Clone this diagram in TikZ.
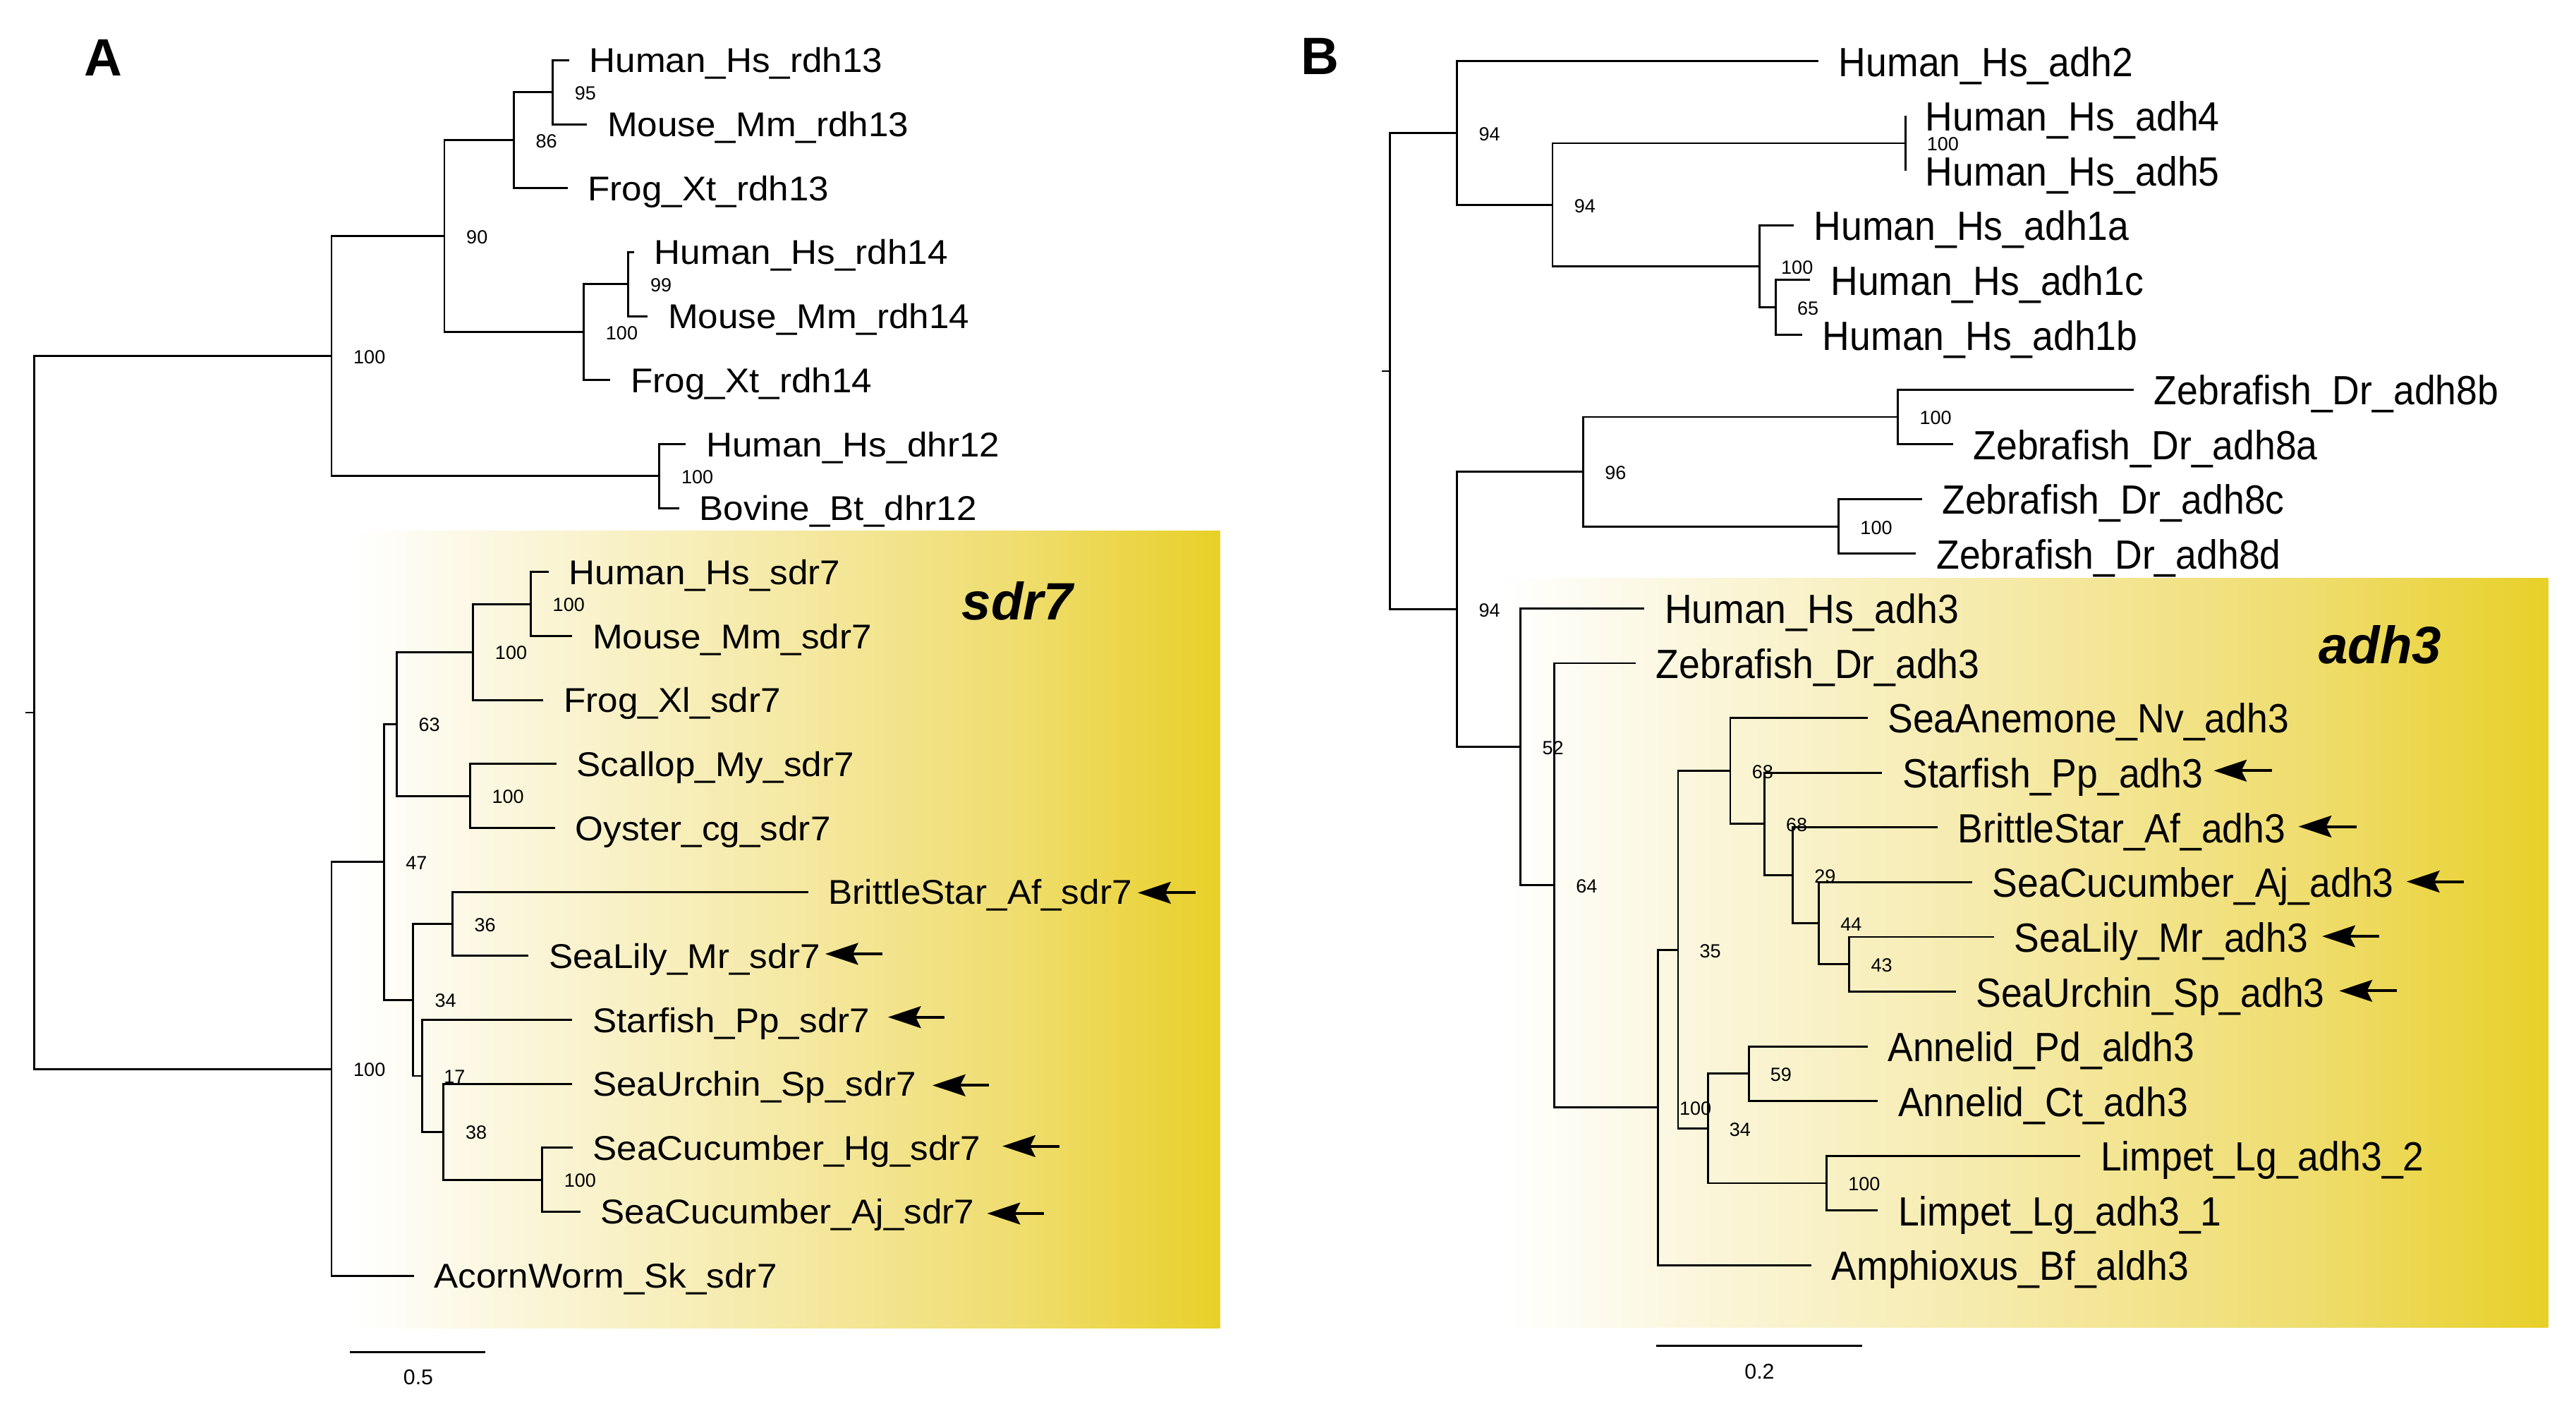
\documentclass[tikz,border=0pt]{standalone}
\usepackage{fontspec}
\setmainfont{Liberation Sans}
\usepackage{graphicx}
\usetikzlibrary{arrows.meta}
\definecolor{gA}{RGB}{250,245,215}
\definecolor{gB}{RGB}{245,233,165}
\definecolor{gC}{RGB}{239,221,110}
\definecolor{gD}{RGB}{232,208,40}
\pgfdeclarehorizontalshading{boxshade}{100bp}{color(0bp)=(white); color(25bp)=(white); color(27bp)=(white); color(37bp)=(gA); color(51bp)=(gB); color(64bp)=(gC); color(75bp)=(gD); color(100bp)=(gD)}
\newcommand{\labA}[1]{\scalebox{1}[0.95]{#1}}
\newcommand{\labB}[1]{\scalebox{1}[1.08]{#1}}
\begin{document}
\begin{tikzpicture}[x=0.5pt,y=-0.5pt,
  br/.style={draw=black, line width=0.62pt},
  tipA/.style={anchor=base west, inner sep=0pt, font=\fontsize{11}{13}\selectfont},
  tipB/.style={anchor=base west, inner sep=0pt, font=\fontsize{11.5}{13}\selectfont},
  bs/.style={anchor=west, inner sep=0pt, font=\fontsize{5.8}{6.5}\selectfont},
  arr/.style={line width=0.85pt, -{Stealth[length=10pt,width=6.6pt,inset=1.6pt]}},
  clade/.style={inner sep=0pt, font=\fontsize{16}{18}\selectfont\bfseries\itshape},
  panel/.style={anchor=base west, inner sep=0pt, font=\fontsize{16}{18}\selectfont\bfseries},
  sbar/.style={draw=black, line width=0.75pt},
  sblab/.style={inner sep=0pt, font=\fontsize{6.5}{8}\selectfont}]
\useasboundingbox (0,0) rectangle (1568,854);
% clade boxes
\shade[shading=boxshade] (192,323) rectangle (742.6,808.2);
\shade[shading=boxshade] (888,351.7) rectangle (1551,808);

% ================= Panel A =================
\node[panel] (pA) at (51,46) {A};
\coordinate (rA) at (20.8,433.65);
\coordinate (rAt) at (15.6,433.65);
\coordinate (a1) at (201.8,216.8);
\coordinate (a2) at (270.5,143.8);
\coordinate (a3) at (312.7,85.4);
\coordinate (a4) at (336.5,56.15);
\coordinate (a5) at (355.4,202.2);
\coordinate (a6) at (382.5,172.95);
\coordinate (a7) at (401.4,289.75);
\coordinate (s1) at (323.1,367.6);
\coordinate (s2) at (288,396.8);
\coordinate (s3) at (286.1,484.4);
\coordinate (s4) at (241.5,440.6);
\coordinate (s5) at (275.4,562.25);
\coordinate (s6) at (330,717.95);
\coordinate (s7) at (270,688.8);
\coordinate (s8) at (256.8,654.75);
\coordinate (s9) at (251.3,608.5);
\coordinate (s10) at (233.6,524.55);
\coordinate (s11) at (201.8,650.5);
\coordinate (tA0) at (346.4,36.7);
\coordinate (tA1) at (357.3,75.6);
\coordinate (tA2) at (345.5,114.6);
\coordinate (tA3) at (386,153.5);
\coordinate (tA4) at (394.3,192.4);
\coordinate (tA5) at (371.6,231.4);
\coordinate (tA6) at (417.5,270.3);
\coordinate (tA7) at (413.3,309.2);
\coordinate (tA8) at (334,348.1);
\coordinate (tA9) at (348.3,387.1);
\coordinate (tA10) at (330.8,426.0);
\coordinate (tA11) at (338.7,464.9);
\coordinate (tA12) at (337.9,503.9);
\coordinate (tA13) at (491.9,542.8);
\coordinate (tA14) at (321.7,581.7);
\coordinate (tA15) at (348.3,620.7);
\coordinate (tA16) at (348.3,659.6);
\coordinate (tA17) at (348.6,698.5);
\coordinate (tA18) at (353.2,737.4);
\coordinate (tA19) at (251.9,776.4);

\draw[br] (rAt) -- (rA);
\draw[br] (rA) |- (a1); \draw[br] (rA) |- (s11);
\draw[br] (a1) |- (a2); \draw[br] (a1) |- (a7);
\draw[br] (a2) |- (a3); \draw[br] (a2) |- (a5);
\draw[br] (a3) |- (a4); \draw[br] (a3) |- (tA2);
\draw[br] (a4) |- (tA0); \draw[br] (a4) |- (tA1);
\draw[br] (a5) |- (a6); \draw[br] (a5) |- (tA5);
\draw[br] (a6) |- (tA3); \draw[br] (a6) |- (tA4);
\draw[br] (a7) |- (tA6); \draw[br] (a7) |- (tA7);
\draw[br] (s11) |- (s10); \draw[br] (s11) |- (tA19);
\draw[br] (s10) |- (s4); \draw[br] (s10) |- (s9);
\draw[br] (s4) |- (s2); \draw[br] (s4) |- (s3);
\draw[br] (s2) |- (s1); \draw[br] (s2) |- (tA10);
\draw[br] (s1) |- (tA8); \draw[br] (s1) |- (tA9);
\draw[br] (s3) |- (tA11); \draw[br] (s3) |- (tA12);
\draw[br] (s9) |- (s5); \draw[br] (s9) |- (s8);
\draw[br] (s5) |- (tA13); \draw[br] (s5) |- (tA14);
\draw[br] (s8) |- (tA15); \draw[br] (s8) |- (s7);
\draw[br] (s7) |- (tA16); \draw[br] (s7) |- (s6);
\draw[br] (s6) |- (tA17); \draw[br] (s6) |- (tA18);

\node[tipA] (lA0) at ([xshift=6pt,yshift=-3.75pt]tA0) {\labA{Human\_Hs\_rdh13}};
\node[tipA] (lA1) at ([xshift=6pt,yshift=-3.75pt]tA1) {\labA{Mouse\_Mm\_rdh13}};
\node[tipA] (lA2) at ([xshift=6pt,yshift=-3.75pt]tA2) {\labA{Frog\_Xt\_rdh13}};
\node[tipA] (lA3) at ([xshift=6pt,yshift=-3.75pt]tA3) {\labA{Human\_Hs\_rdh14}};
\node[tipA] (lA4) at ([xshift=6pt,yshift=-3.75pt]tA4) {\labA{Mouse\_Mm\_rdh14}};
\node[tipA] (lA5) at ([xshift=6pt,yshift=-3.75pt]tA5) {\labA{Frog\_Xt\_rdh14}};
\node[tipA] (lA6) at ([xshift=6pt,yshift=-3.75pt]tA6) {\labA{Human\_Hs\_dhr12}};
\node[tipA] (lA7) at ([xshift=6pt,yshift=-3.75pt]tA7) {\labA{Bovine\_Bt\_dhr12}};
\node[tipA] (lA8) at ([xshift=6pt,yshift=-3.75pt]tA8) {\labA{Human\_Hs\_sdr7}};
\node[tipA] (lA9) at ([xshift=6pt,yshift=-3.75pt]tA9) {\labA{Mouse\_Mm\_sdr7}};
\node[tipA] (lA10) at ([xshift=6pt,yshift=-3.75pt]tA10) {\labA{Frog\_Xl\_sdr7}};
\node[tipA] (lA11) at ([xshift=6pt,yshift=-3.75pt]tA11) {\labA{Scallop\_My\_sdr7}};
\node[tipA] (lA12) at ([xshift=6pt,yshift=-3.75pt]tA12) {\labA{Oyster\_cg\_sdr7}};
\node[tipA] (lA13) at ([xshift=6pt,yshift=-3.75pt]tA13) {\labA{BrittleStar\_Af\_sdr7}};
\node[tipA] (lA14) at ([xshift=6pt,yshift=-3.75pt]tA14) {\labA{SeaLily\_Mr\_sdr7}};
\node[tipA] (lA15) at ([xshift=6pt,yshift=-3.75pt]tA15) {\labA{Starfish\_Pp\_sdr7}};
\node[tipA] (lA16) at ([xshift=6pt,yshift=-3.75pt]tA16) {\labA{SeaUrchin\_Sp\_sdr7}};
\node[tipA] (lA17) at ([xshift=6pt,yshift=-3.75pt]tA17) {\labA{SeaCucumber\_Hg\_sdr7}};
\node[tipA] (lA18) at ([xshift=6pt,yshift=-3.75pt]tA18) {\labA{SeaCucumber\_Aj\_sdr7}};
\node[tipA] (lA19) at ([xshift=6pt,yshift=-3.75pt]tA19) {\labA{AcornWorm\_Sk\_sdr7}};

\node[bs] (bA4) at ([xshift=6.5pt,yshift=-0.3pt]a4) {95};
\node[bs] (bA3) at ([xshift=6.5pt,yshift=-0.3pt]a3) {86};
\node[bs] (bA2) at ([xshift=6.5pt,yshift=-0.3pt]a2) {90};
\node[bs] (bA6) at ([xshift=6.5pt,yshift=-0.3pt]a6) {99};
\node[bs] (bA5) at ([xshift=6.5pt,yshift=-0.3pt]a5) {100};
\node[bs] (bA1) at ([xshift=6.5pt,yshift=-0.3pt]a1) {100};
\node[bs] (bA7) at ([xshift=6.5pt,yshift=-0.3pt]a7) {100};
\node[bs] (bS1) at ([xshift=6.5pt,yshift=-0.3pt]s1) {100};
\node[bs] (bS2) at ([xshift=6.5pt,yshift=-0.3pt]s2) {100};
\node[bs] (bS3) at ([xshift=6.5pt,yshift=-0.3pt]s3) {100};
\node[bs] (bS4) at ([xshift=6.5pt,yshift=-0.3pt]s4) {63};
\node[bs] (bS5) at ([xshift=6.5pt,yshift=-0.3pt]s5) {36};
\node[bs] (bS6) at ([xshift=6.5pt,yshift=-0.3pt]s6) {100};
\node[bs] (bS7) at ([xshift=6.5pt,yshift=-0.3pt]s7) {38};
\node[bs] (bS8) at ([xshift=6.5pt,yshift=-0.3pt]s8) {17};
\node[bs] (bS9) at ([xshift=6.5pt,yshift=-0.3pt]s9) {34};
\node[bs] (bS10) at ([xshift=6.5pt,yshift=-0.3pt]s10) {47};
\node[bs] (bS11) at ([xshift=6.5pt,yshift=-0.3pt]s11) {100};

\node[clade] (cA) at (619.3,365.6) {sdr7};

% arrows A
\coordinate (xA13a) at (727.8,543.3); \coordinate (xA13b) at (692.6,543.3);
\coordinate (xA14a) at (537.3,580.5); \coordinate (xA14b) at (502.3,580.5);
\coordinate (xA15a) at (575,619);     \coordinate (xA15b) at (540.5,619);
\coordinate (xA16a) at (602.1,660.5); \coordinate (xA16b) at (567.6,660.5);
\coordinate (xA17a) at (644.7,697.5); \coordinate (xA17b) at (610.2,697.5);
\coordinate (xA18a) at (635.4,738.5); \coordinate (xA18b) at (600.9,738.5);
\draw[arr] (xA13a) -- (xA13b);
\draw[arr] (xA14a) -- (xA14b);
\draw[arr] (xA15a) -- (xA15b);
\draw[arr] (xA16a) -- (xA16b);
\draw[arr] (xA17a) -- (xA17b);
\draw[arr] (xA18a) -- (xA18b);

% scale bar A
\coordinate (sbA1) at (213,822.9); \coordinate (sbA2) at (295.2,822.9);
\draw[sbar] (sbA1) -- (sbA2);
\node[sblab] (sbAl) at (254.6,838) {0.5};

% ================= Panel B =================
\node[panel] (pB) at (791.7,45.5) {B};
\coordinate (rB) at (845.9,225.85);
\coordinate (rBt) at (841.3,225.85);
\coordinate (b1) at (887,80.9);
\coordinate (b2) at (945,124.6);
\coordinate (b3) at (1159.7,87.15);
\coordinate (b4) at (1071,162.1);
\coordinate (b5) at (1080.8,187.1);
\coordinate (b6) at (887,370.8);
\coordinate (b7) at (963.7,287.05);
\coordinate (b8) at (1155.3,253.75);
\coordinate (b9) at (1119.2,320.35);
\coordinate (b10) at (925.6,454.55);
\coordinate (b11) at (946.1,538.8);
\coordinate (b12) at (1009.1,673.98);
\coordinate (b13) at (1021.4,577.95);
\coordinate (b14) at (1053.2,469.15);
\coordinate (b15) at (1074,501.4);
\coordinate (b16) at (1091.2,532.65);
\coordinate (b17) at (1107.1,561.8);
\coordinate (b18) at (1125.7,586.85);
\coordinate (b19) at (1039.5,686.75);
\coordinate (b20) at (1064.4,653.45);
\coordinate (b21) at (1111.8,720.05);
\coordinate (tB0) at (1106.9,37.2);
\coordinate (tB1) at (1159.7,70.5);
\coordinate (tB2) at (1159.7,103.8);
\coordinate (tB3) at (1091.8,137.1);
\coordinate (tB4) at (1101.9,170.4);
\coordinate (tB5) at (1097,203.8);
\coordinate (tB6) at (1298.8,237.1);
\coordinate (tB7) at (1188.7,270.4);
\coordinate (tB8) at (1169.8,303.7);
\coordinate (tB9) at (1166.3,337.0);
\coordinate (tB10) at (1000.9,370.3);
\coordinate (tB11) at (995.7,403.6);
\coordinate (tB12) at (1136.7,436.9);
\coordinate (tB13) at (1145.7,470.2);
\coordinate (tB14) at (1179.4,503.5);
\coordinate (tB15) at (1200.5,536.8);
\coordinate (tB16) at (1213.6,570.2);
\coordinate (tB17) at (1190.4,603.5);
\coordinate (tB18) at (1136.7,636.8);
\coordinate (tB19) at (1143,670.1);
\coordinate (tB20) at (1266.2,703.4);
\coordinate (tB21) at (1143,736.7);
\coordinate (tB22) at (1102.5,770.0);

\draw[br] (rBt) -- (rB);
\draw[br] (rB) |- (b1); \draw[br] (rB) |- (b6);
\draw[br] (b1) |- (tB0); \draw[br] (b1) |- (b2);
\draw[br] (b2) |- (b3); \draw[br] (b2) |- (b4);
\draw[br] (b3) |- (tB1); \draw[br] (b3) |- (tB2);
\draw[br] (b4) |- (tB3); \draw[br] (b4) |- (b5);
\draw[br] (b5) |- (tB4); \draw[br] (b5) |- (tB5);
\draw[br] (b6) |- (b7); \draw[br] (b6) |- (b10);
\draw[br] (b7) |- (b8); \draw[br] (b7) |- (b9);
\draw[br] (b8) |- (tB6); \draw[br] (b8) |- (tB7);
\draw[br] (b9) |- (tB8); \draw[br] (b9) |- (tB9);
\draw[br] (b10) |- (tB10); \draw[br] (b10) |- (b11);
\draw[br] (b11) |- (tB11); \draw[br] (b11) |- (b12);
\draw[br] (b12) |- (b13); \draw[br] (b12) |- (tB22);
\draw[br] (b13) |- (b14); \draw[br] (b13) |- (b19);
\draw[br] (b14) |- (tB12); \draw[br] (b14) |- (b15);
\draw[br] (b15) |- (tB13); \draw[br] (b15) |- (b16);
\draw[br] (b16) |- (tB14); \draw[br] (b16) |- (b17);
\draw[br] (b17) |- (tB15); \draw[br] (b17) |- (b18);
\draw[br] (b18) |- (tB16); \draw[br] (b18) |- (tB17);
\draw[br] (b19) |- (b20); \draw[br] (b19) |- (b21);
\draw[br] (b20) |- (tB18); \draw[br] (b20) |- (tB19);
\draw[br] (b21) |- (tB20); \draw[br] (b21) |- (tB21);

\node[tipB] (lB0) at ([xshift=6pt,yshift=-4.6pt]tB0) {\labB{Human\_Hs\_adh2}};
\node[tipB] (lB1) at ([xshift=6pt,yshift=-4.6pt]tB1) {\labB{Human\_Hs\_adh4}};
\node[tipB] (lB2) at ([xshift=6pt,yshift=-4.6pt]tB2) {\labB{Human\_Hs\_adh5}};
\node[tipB] (lB3) at ([xshift=6pt,yshift=-4.6pt]tB3) {\labB{Human\_Hs\_adh1a}};
\node[tipB] (lB4) at ([xshift=6pt,yshift=-4.6pt]tB4) {\labB{Human\_Hs\_adh1c}};
\node[tipB] (lB5) at ([xshift=6pt,yshift=-4.6pt]tB5) {\labB{Human\_Hs\_adh1b}};
\node[tipB] (lB6) at ([xshift=6pt,yshift=-4.6pt]tB6) {\labB{Zebrafish\_Dr\_adh8b}};
\node[tipB] (lB7) at ([xshift=6pt,yshift=-4.6pt]tB7) {\labB{Zebrafish\_Dr\_adh8a}};
\node[tipB] (lB8) at ([xshift=6pt,yshift=-4.6pt]tB8) {\labB{Zebrafish\_Dr\_adh8c}};
\node[tipB] (lB9) at ([xshift=6pt,yshift=-4.6pt]tB9) {\labB{Zebrafish\_Dr\_adh8d}};
\node[tipB] (lB10) at ([xshift=6pt,yshift=-4.6pt]tB10) {\labB{Human\_Hs\_adh3}};
\node[tipB] (lB11) at ([xshift=6pt,yshift=-4.6pt]tB11) {\labB{Zebrafish\_Dr\_adh3}};
\node[tipB] (lB12) at ([xshift=6pt,yshift=-4.6pt]tB12) {\labB{SeaAnemone\_Nv\_adh3}};
\node[tipB] (lB13) at ([xshift=6pt,yshift=-4.6pt]tB13) {\labB{Starfish\_Pp\_adh3}};
\node[tipB] (lB14) at ([xshift=6pt,yshift=-4.6pt]tB14) {\labB{BrittleStar\_Af\_adh3}};
\node[tipB] (lB15) at ([xshift=6pt,yshift=-4.6pt]tB15) {\labB{SeaCucumber\_Aj\_adh3}};
\node[tipB] (lB16) at ([xshift=6pt,yshift=-4.6pt]tB16) {\labB{SeaLily\_Mr\_adh3}};
\node[tipB] (lB17) at ([xshift=6pt,yshift=-4.6pt]tB17) {\labB{SeaUrchin\_Sp\_adh3}};
\node[tipB] (lB18) at ([xshift=6pt,yshift=-4.6pt]tB18) {\labB{Annelid\_Pd\_aldh3}};
\node[tipB] (lB19) at ([xshift=6pt,yshift=-4.6pt]tB19) {\labB{Annelid\_Ct\_adh3}};
\node[tipB] (lB20) at ([xshift=6pt,yshift=-4.6pt]tB20) {\labB{Limpet\_Lg\_adh3\_2}};
\node[tipB] (lB21) at ([xshift=6pt,yshift=-4.6pt]tB21) {\labB{Limpet\_Lg\_adh3\_1}};
\node[tipB] (lB22) at ([xshift=6pt,yshift=-4.6pt]tB22) {\labB{Amphioxus\_Bf\_aldh3}};

\node[bs] (bB1) at ([xshift=6.4pt,yshift=-0.35pt]b1) {94};
\node[bs] (bB2) at ([xshift=6.4pt,yshift=-0.35pt]b2) {94};
\node[bs] (bB3) at ([xshift=6.4pt,yshift=-0.35pt]b3) {100};
\node[bs] (bB4) at ([xshift=6.4pt,yshift=-0.35pt]b4) {100};
\node[bs] (bB5) at ([xshift=6.4pt,yshift=-0.35pt]b5) {65};
\node[bs] (bB6) at ([xshift=6.4pt,yshift=-0.35pt]b6) {94};
\node[bs] (bB7) at ([xshift=6.4pt,yshift=-0.35pt]b7) {96};
\node[bs] (bB8) at ([xshift=6.4pt,yshift=-0.35pt]b8) {100};
\node[bs] (bB9) at ([xshift=6.4pt,yshift=-0.35pt]b9) {100};
\node[bs] (bB10) at ([xshift=6.4pt,yshift=-0.35pt]b10) {52};
\node[bs] (bB11) at ([xshift=6.4pt,yshift=-0.35pt]b11) {64};
\node[bs] (bB12) at ([xshift=6.4pt,yshift=-0.35pt]b12) {100};
\node[bs] (bB13) at ([xshift=6.4pt,yshift=-0.35pt]b13) {35};
\node[bs] (bB14) at ([xshift=6.4pt,yshift=-0.35pt]b14) {68};
\node[bs] (bB15) at ([xshift=6.4pt,yshift=-0.35pt]b15) {68};
\node[bs] (bB16) at ([xshift=6.4pt,yshift=-0.35pt]b16) {29};
\node[bs] (bB17) at ([xshift=6.4pt,yshift=-0.35pt]b17) {44};
\node[bs] (bB18) at ([xshift=6.4pt,yshift=-0.35pt]b18) {43};
\node[bs] (bB19) at ([xshift=6.4pt,yshift=-0.35pt]b19) {34};
\node[bs] (bB20) at ([xshift=6.4pt,yshift=-0.35pt]b20) {59};
\node[bs] (bB21) at ([xshift=6.4pt,yshift=-0.35pt]b21) {100};

\node[clade] (cB) at (1448.7,392.3) {adh3};

% arrows B
\coordinate (xB13a) at (1383,469);     \coordinate (xB13b) at (1347.5,469);
\coordinate (xB14a) at (1434.3,503);   \coordinate (xB14b) at (1399.1,503);
\coordinate (xB15a) at (1499.5,536.5); \coordinate (xB15b) at (1464.9,536.5);
\coordinate (xB16a) at (1448.2,569.8); \coordinate (xB16b) at (1413.5,569.8);
\coordinate (xB17a) at (1459.1,603);   \coordinate (xB17b) at (1423.9,603);
\draw[arr] (xB13a) -- (xB13b);
\draw[arr] (xB14a) -- (xB14b);
\draw[arr] (xB15a) -- (xB15b);
\draw[arr] (xB16a) -- (xB16b);
\draw[arr] (xB17a) -- (xB17b);

% scale bar B
\coordinate (sbB1) at (1008,818.9); \coordinate (sbB2) at (1133.4,818.9);
\draw[sbar] (sbB1) -- (sbB2);
\node[sblab] (sbBl) at (1071,834.7) {0.2};
\end{tikzpicture}
\end{document}
